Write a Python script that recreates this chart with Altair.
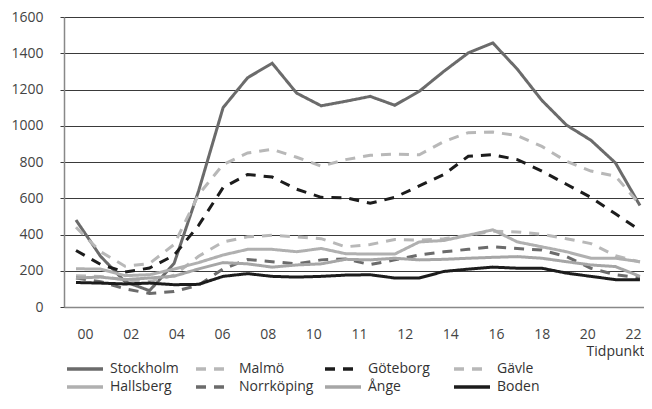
import altair as alt
import pandas as pd

hours = list(range(24))
x_labels = ["00", "02", "04", "06", "08", "10", "11", "12", "14", "16", "18", "20", "22"]
y_ticks = [0, 200, 400, 600, 800, 1000, 1200, 1400, 1600]

series_names = ["Stockholm", "Malmö", "Göteborg", "Gävle",
                "Hallsberg", "Norrköping", "Ånge", "Boden"]

stockholm = [480, 280, 140, 90, 240, 640, 1100, 1265, 1345, 1180, 1110, 1135,
             1162, 1113, 1190, 1300, 1402, 1457, 1312, 1140, 1004, 920, 795, 560]
malmo = [440, 305, 225, 240, 345, 620, 786, 850, 870, 826, 777, 813,
         837, 844, 840, 913, 962, 965, 946, 886, 804, 750, 722, 565]
goteborg = [312, 235, 193, 215, 285, 450, 659, 731, 717, 650, 605, 603,
            572, 605, 668, 731, 832, 840, 813, 750, 677, 605, 514, 423]
gavle = [172, 168, 150, 140, 175, 280, 359, 387, 396, 387, 377, 332,
         345, 372, 369, 376, 396, 418, 414, 401, 377, 350, 283, 248]
hallsberg = [211, 209, 173, 178, 209, 245, 287, 318, 318, 305, 323, 294,
             292, 292, 359, 367, 396, 426, 359, 332, 305, 269, 269, 250]
norrkoping = [160, 140, 100, 75, 85, 120, 210, 262, 250, 238, 260, 265,
              234, 260, 287, 305, 318, 332, 323, 314, 278, 214, 178, 160]
ange = [160, 165, 151, 160, 170, 210, 245, 238, 220, 232, 238, 263,
        260, 269, 260, 263, 269, 274, 278, 269, 250, 232, 223, 169]
boden = [135, 132, 127, 132, 123, 125, 169, 184, 169, 165, 169, 176,
         178, 160, 160, 196, 209, 220, 214, 214, 187, 169, 151, 150]

all_values = [stockholm, malmo, goteborg, gavle, hallsberg, norrkoping, ange, boden]

colors = ["#6b6b6b", "#b8b8b8", "#1c1c1c", "#b8b8b8",
          "#b0b0b0", "#6b6b6b", "#a6a6a6", "#1c1c1c"]
dashes = [[1, 0], [10, 8], [10, 8], [10, 8], [1, 0], [10, 8], [1, 0], [1, 0]]

rows = []
for name, vals in zip(series_names, all_values):
    for h, v in zip(hours, vals):
        rows.append({"Stad": name, "hour": h, "value": v})
df = pd.DataFrame(rows)

tick_start = 0.367
tick_step = 1.8625
tick_values = [round(tick_start + tick_step * i, 4) for i in range(len(x_labels))]
label_arr = "[" + ",".join("'" + l + "'" for l in x_labels) + "]"
label_expr = label_arr + "[round((datum.value - " + str(tick_start) + ") / " + str(tick_step) + ")]"

FONT = "Open Sans"

legend = alt.Legend(
    title=None, orient="none", legendX=10, legendY=341, columns=4, direction="horizontal",
    gridAlign="all",
    symbolType="M-2,0H2", symbolSize=324, symbolStrokeWidth=3.5,
    labelFont=FONT, labelFontSize=14, labelColor="#333",
    labelOffset=14, columnPadding=4, rowPadding=0,
)

chart = alt.Chart(df).mark_line(strokeWidth=3).encode(
    x=alt.X("hour:Q",
            scale=alt.Scale(domain=[-0.489, 23.165], nice=False, zero=False),
            axis=alt.Axis(values=tick_values, labelExpr=label_expr, title="Tidpunkt",
                          grid=False, ticks=False, tickSize=0, labelPadding=31,
                          labelBaseline="alphabetic", labelFont=FONT, labelFontSize=14,
                          labelColor="#444", domainColor="#888", domainWidth=1.5,
                          titleFont=FONT, titleFontSize=14, titleFontWeight="normal",
                          titleColor="#333", titleAnchor="end", titleAlign="right",
                          titleX=580, titleY=48, titleBaseline="alphabetic",
                          labelOverlap=False, labelFlush=False)),
    y=alt.Y("value:Q",
            scale=alt.Scale(domain=[0, 1600], nice=False),
            axis=alt.Axis(values=y_ticks, format="d", title=None, grid=True,
                          gridColor="#3a3a3a", gridWidth=1, tickSize=4,
                          tickColor="#3a3a3a", labelPadding=17,
                          labelFont=FONT, labelFontSize=14, labelColor="#444",
                          domainColor="#888", domainWidth=1.5)),
    color=alt.Color("Stad:N", scale=alt.Scale(domain=series_names, range=colors),
                    sort=series_names, legend=legend),
    strokeDash=alt.StrokeDash("Stad:N", scale=alt.Scale(domain=series_names, range=dashes),
                              sort=series_names, legend=legend),
).properties(
    width=580, height=290,
    padding={"left": 56, "top": 9, "right": 0, "bottom": 88},
    autosize=alt.AutoSizeParams(type="none"),
).configure_view(stroke=None).configure(font=FONT)

chart.save("out.html", embed_options={"renderer": "svg", "actions": False})
